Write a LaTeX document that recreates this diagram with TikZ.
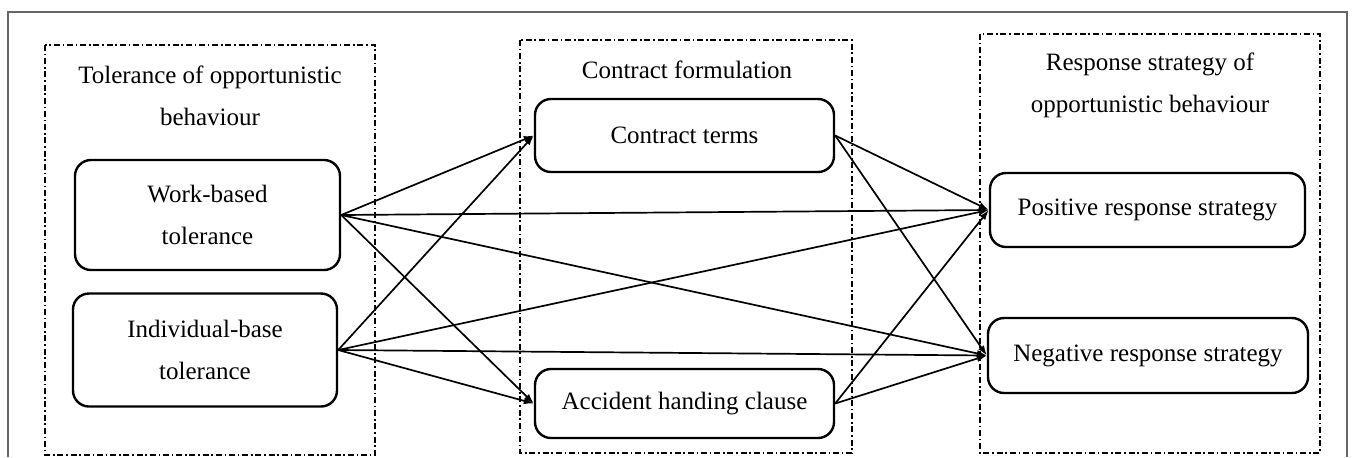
\documentclass[tikz,border=0pt]{standalone}
\usepackage{fontspec}
\setmainfont{Liberation Serif}
\usetikzlibrary{arrows.meta}

\begin{document}
\begin{tikzpicture}
  [x=0.5pt,y=-0.5pt,
   every node/.style={font=\fontsize{12.5}{21}\selectfont,align=center},
   factor/.style={draw,rounded corners=8pt,line width=1.2pt,inner sep=0pt},
   groupbox/.style={line width=0.9pt,dash pattern=on 3pt off 1.4pt on 0.8pt off 1.4pt},
   link/.style={line width=0.85pt,-{Latex[length=5pt,width=3.5pt]}}]
  \useasboundingbox (0,0) rectangle (1358,457);
  \draw[gray!80!black,line width=0.9pt] (8,457) -- (8,12) -- (1347,12) -- (1347,457);

  % groups
  \draw[groupbox] (45,45) rectangle (375,455);
  \draw[groupbox] (520,40) rectangle (852,453);
  \draw[groupbox] (980,34) rectangle (1320,453);

  \node (t1) at (210,96) {Tolerance of opportunistic\\behaviour};
  \node (t2) at (687,70) {Contract formulation};
  \node (t3) at (1150,85) {Response strategy of\\opportunistic behaviour};

  \node[factor,minimum width=132.5pt,minimum height=55pt] (wb) at (207.5,215) {Work-based\\tolerance};
  \node[factor,minimum width=132pt,minimum height=56.5pt] (ib) at (205,350) {Individual-base\\tolerance};
  \node[factor,minimum width=149.5pt,minimum height=36.5pt] (ct) at (684.5,135.5) {Contract terms};
  \node[factor,minimum width=149.5pt,minimum height=34.5pt] (ah) at (684.5,403.5) {Accident handing clause};
  \node[factor,minimum width=157.5pt,minimum height=37pt] (pr) at (1147.5,210) {Positive response strategy};
  \node[factor,minimum width=160pt,minimum height=37.5pt] (nr) at (1148,355.5) {Negative response strategy};

  \foreach \from/\to in {wb/ct,wb/ah,wb/pr,wb/nr,ib/ct,ib/ah,ib/pr,ib/nr,ct/pr,ct/nr,ah/pr,ah/nr}
    \draw[link] (\from.east) -- (\to.west);
\end{tikzpicture}
\end{document}
